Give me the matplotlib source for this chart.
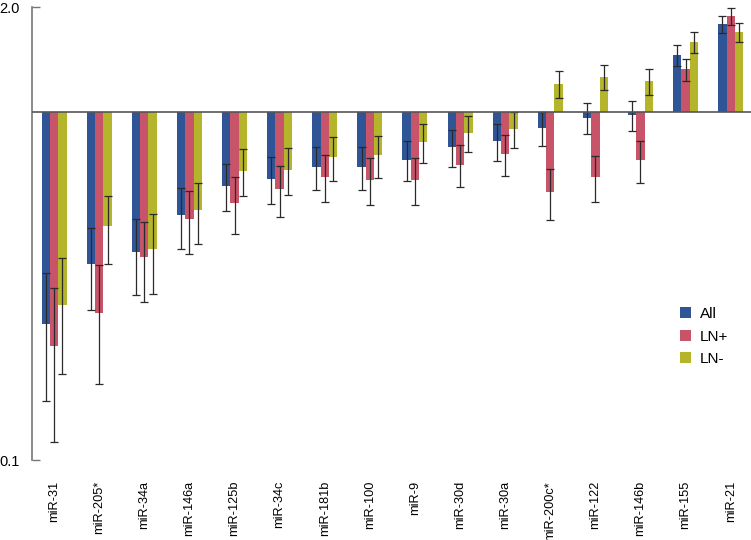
import numpy as np
import matplotlib; matplotlib.use("Agg")
import matplotlib.pyplot as plt

# ─── Data (fold change, log scale, bars from 1.0) ───
labels = ["miR-31", "miR-205*", "miR-34a", "miR-146a", "miR-125b", "miR-34c",
          "miR-181b", "miR-100", "miR-9", "miR-30d", "miR-30a", "miR-200c*",
          "miR-122", "miR-146b", "miR-155", "miR-21"]
all_vals = [0.246, 0.366, 0.395, 0.504, 0.614, 0.641, 0.694, 0.694, 0.729, 0.791,
            0.823, 0.897, 0.960, 0.977, 1.454, 1.784]
lnpos_vals = [0.212, 0.264, 0.384, 0.491, 0.547, 0.600, 0.650, 0.639, 0.639, 0.705,
              0.755, 0.588, 0.650, 0.725, 1.325, 1.881]
lnneg_vals = [0.279, 0.469, 0.404, 0.521, 0.676, 0.682, 0.740, 0.750, 0.819, 0.869,
              0.892, 1.202, 1.262, 1.224, 1.587, 1.696]
all_err = [0.098, 0.097, 0.098, 0.100, 0.096, 0.099, 0.096, 0.099, 0.097, 0.098,
           0.099, 0.099, 0.097, 0.097, 0.104, 0.098]
lnpos_err = [0.099, 0.099, 0.100, 0.100, 0.101, 0.100, 0.100, 0.100, 0.100, 0.098,
             0.102, 0.099, 0.099, 0.100, 0.096, 0.100]
lnneg_err = [0.102, 0.104, 0.104, 0.103, 0.104, 0.105, 0.105, 0.105, 0.105, 0.104,
             0.105, 0.107, 0.104, 0.105, 0.111, 0.109]

series = [("All", all_vals, all_err, "#2F5597"),
          ("LN+", lnpos_vals, lnpos_err, "#C75468"),
          ("LN-", lnneg_vals, lnneg_err, "#B5B52C")]

plt.rcParams["font.family"] = ["Liberation Sans", "DejaVu Sans"]

fig = plt.figure(figsize=(7.51, 5.40), dpi=100)
ax = fig.add_axes([0.0426, 0.148, 0.9574, 0.839])

x = np.arange(len(labels))
w = 0.185
for i, (name, vals, err, col) in enumerate(series):
    vals = np.array(vals)
    pos = x + (i - 1) * w
    ax.bar(pos, vals - 1.0, bottom=1.0, width=w, color=col, label=name, zorder=2)
    ax.errorbar(pos, vals, yerr=err, fmt="none", ecolor="#2a2a2a",
                elinewidth=0.9, capsize=2.8, capthick=0.9, zorder=3)

ax.set_yscale("log")
ax.set_ylim(0.1, 2.0)
ax.set_xlim(-0.49, 15.45)
ax.axhline(1.0, color="#555555", lw=1.2, zorder=4)

ax.set_yticks([0.1, 2.0])
ax.set_yticklabels(["0.1", "2.0"])
ax.yaxis.set_minor_locator(plt.NullLocator())
ax.tick_params(axis="y", direction="in", length=6, width=1, color="#777777",
               labelsize=10.5, pad=9)

ax.set_xticks(x)
ax.set_xticklabels(labels, rotation=90, fontsize=9.2)
ax.tick_params(axis="x", length=0, pad=15)

for s in ["top", "right", "bottom"]:
    ax.spines[s].set_visible(False)
ax.spines["left"].set_color("#777777")
ax.spines["left"].set_linewidth(1.2)

ax.legend(loc="upper left", bbox_to_anchor=(0.893, 0.351), frameon=False,
          fontsize=11, handlelength=0.7, handleheight=0.7, handletextpad=0.6,
          labelspacing=0.55, borderaxespad=0)

fig.savefig("out.png", dpi=100)
